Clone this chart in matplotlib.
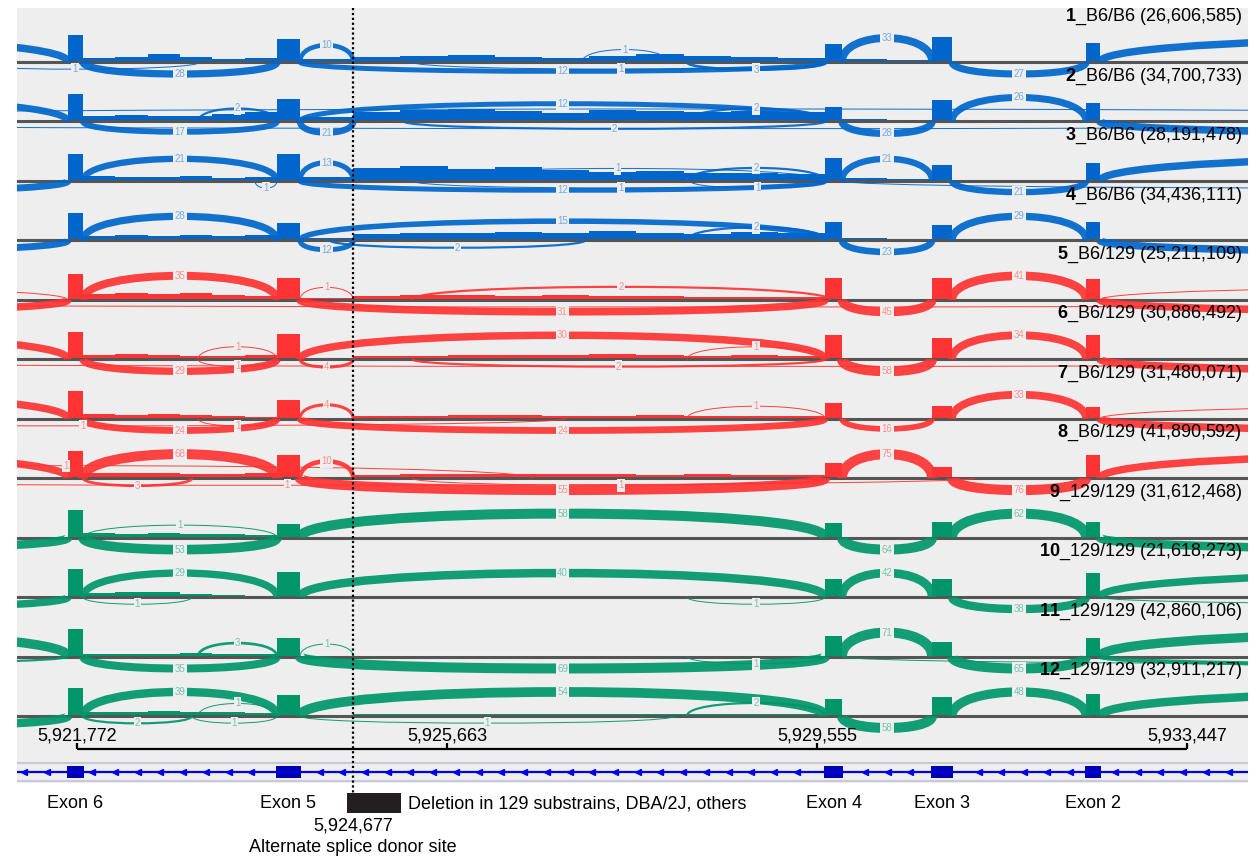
import matplotlib
matplotlib.use("Agg")
import matplotlib.pyplot as plt
import matplotlib.transforms as mtransforms
from matplotlib.path import Path
from matplotlib.patches import PathPatch, Rectangle
import numpy as np

plt.rcParams["font.family"] = ["Liberation Sans", "DejaVu Sans"]
plt.rcParams["mathtext.fontset"] = "custom"
plt.rcParams["mathtext.rm"] = "Liberation Sans"
plt.rcParams["mathtext.bf"] = "Liberation Sans:bold"

W, H = 1258, 859

# genomic window and features (bp)
VIEW = (5921141, 5934087)
L_OFF, R_OFF = 5915700, 5940950
E6S, E6E = 5921677, 5921835
E5S, E5E = 5923875, 5924117
ALT = 5924677
E4S, E4E = 5929639, 5929817
E3S, E3E = 5930764, 5930974
E2S, E2E = 5932384, 5932531

EXON_NAMES = ["Exon 6", "Exon 5", "Exon 4", "Exon 3", "Exon 2"]
EXON_SPANS = [(E6S, E6E), (E5S, E5E), (E4S, E4E), (E3S, E3E), (E2S, E2E)]
DELETION = (5924612, 5925180)
SCALE_TICKS = [5921772, 5925663, 5929555, 5933447]

GENOTYPES = ["B6/B6"] * 4 + ["B6/129"] * 4 + ["129/129"] * 4
READS = ["26,606,585", "34,700,733", "28,191,478", "34,436,111",
         "25,211,109", "30,886,492", "31,480,071", "41,890,592",
         "31,612,468", "21,618,273", "42,860,106", "32,911,217"]
COLORS = {"B6/B6": "#0066cc", "B6/129": "#ff3333", "129/129": "#00966a"}

# coverage heights: exons 6,5,4,3,2
EXON_COV = [
    [27, 23, 18, 25, 19],
    [27, 22, 14, 21, 18],
    [27, 27, 23, 16, 18],
    [27, 17, 18, 15, 18],
    [26, 22, 22, 22, 21],
    [27, 25, 24, 21, 24],
    [28, 19, 16, 13, 12],
    [27, 23, 15, 11, 23],
    [28, 14, 15, 16, 16],
    [28, 25, 18, 18, 24],
    [28, 19, 21, 15, 19],
    [28, 21, 17, 19, 22],
]
# intron 6-5 coverage, six bins
INTRON65_COV = [
    [4, 5, 8, 5, 3, 4], [5, 6, 5, 5, 7, 9], [5, 4, 4, 5, 3, 4],
    [4, 5, 4, 5, 4, 5], [6, 7, 6, 7, 5, 4], [4, 5, 4, 3, 3, 4],
    [5, 4, 5, 4, 3, 2], [5, 5, 5, 4, 4, 5], [5, 4, 5, 4, 4, 3],
    [4, 5, 5, 3, 2, 1], [3, 3, 3, 4, 3, 3], [4, 4, 5, 4, 4, 3],
]
DONOR_COV = [3, 4, 4, 2, 2, 1, 1, 1, 0, 0, 0, 1]
# intron 5-4 coverage (downstream of alternate donor), ten bins
INTRON54_COV = [
    [5, 6, 7, 5, 4, 6, 8, 6, 5, 4],
    [9, 11, 12, 10, 8, 11, 10, 9, 10, 9],
    [13, 15, 12, 14, 11, 9, 10, 8, 8, 7],
    [6, 7, 7, 8, 7, 9, 7, 6, 8, 7],
    [4, 5, 5, 4, 5, 4, 4, 3, 3, 3],
    [3, 3, 4, 4, 4, 5, 4, 3, 4, 3],
    [3, 3, 4, 4, 3, 3, 4, 3, 3, 3],
    [3, 4, 4, 4, 4, 4, 3, 4, 3, 3],
    [0, 0, 0, 0, 0, 0, 0, 0, 0, 0],
    [0, 0, 0, 0, 0, 0, 0, 0, 0, 0],
    [1, 1, 1, 1, 1, 1, 1, 1, 1, 1],
    [2, 2, 2, 2, 2, 2, 2, 2, 2, 2],
]
INTRON43_COV = [[3, 2], [2, 1], [3, 2], [2, 1], [0, 0], [0, 0],
                [0, 0], [0, 0], [0, 0], [0, 0], [0, 0], [0, 0]]

# junctions per sample: (start, end, reads, side)
JUNCTIONS = [
    [(L_OFF, E6S, 30, "up"), (5920436, 5923066, 1, "down"), (E6E, E5S, 28, "down"),
     (E5E, ALT, 10, "up"), (E5E, E4S, 12, "down"), (5927083, 5927987, 1, "up"),
     (5925295, 5929691, 1, "down"), (5928187, E4S, 3, "down"), (E4E, E3S, 33, "up"),
     (E3E, E2S, 27, "down"), (E2E, R_OFF, 30, "up")],
    [(L_OFF, E6S, 25, "up"), (L_OFF, R_OFF, 1, "up"), (L_OFF, R_OFF, 1, "down"),
     (E6E, E5S, 17, "down"), (5923045, E5S, 2, "up"), (E5E, ALT, 21, "down"),
     (E5E, E4S, 12, "up"), (5925211, E4S, 2, "down"), (5928187, E4S, 2, "up"),
     (E4E, E3S, 28, "down"), (E3E, E2S, 26, "up"), (E2E, R_OFF, 30, "down")],
    [(L_OFF, E6S, 25, "down"), (E6E, E5S, 21, "up"), (5923644, E5S, 1, "down"),
     (E5E, ALT, 13, "up"), (5925274, E4S, 1, "up"), (5928187, E4S, 2, "up"),
     (E5E, E4S, 12, "down"), (5925295, 5929691, 1, "down"), (5928219, E4S, 1, "down"),
     (E4E, E3S, 21, "up"), (E3E, E2S, 21, "down"), (E2E, R_OFF, 30, "up"),
     (E4E, R_OFF, 1, "down")],
    [(L_OFF, E6S, 25, "down"), (E6E, E5S, 28, "up"), (E5E, ALT, 12, "down"),
     (E5E, E4S, 15, "up"), (5928187, E4S, 2, "up"), (5924433, 5927115, 2, "down"),
     (E4E, E3S, 23, "down"), (E3E, E2S, 29, "up"), (E2E, R_OFF, 30, "down")],
    [(L_OFF, E6S, 30, "down"), (L_OFF, R_OFF, 1, "down"), (L_OFF, E6S, 1, "up"),
     (E6E, E5S, 35, "up"), (E5E, ALT, 1, "up"), (5925295, 5929691, 2, "up"),
     (E5E, E4S, 31, "down"), (E4E, E3S, 45, "down"), (E3E, E2S, 41, "up"),
     (E2E, R_OFF, 30, "down"), (E2E, R_OFF, 1, "up")],
    [(L_OFF, E6S, 30, "up"), (L_OFF, R_OFF, 1, "down"), (E6E, E5S, 29, "down"),
     (5923045, E5S, 1, "up"), (5923045, E5S, 1, "down"), (E5E, E4S, 30, "up"),
     (E5E, ALT, 4, "down"), (5928187, E4S, 1, "up"), (5925295, E4S, 2, "down"),
     (E4E, E3S, 58, "down"), (E3E, E2S, 34, "up"), (E2E, R_OFF, 30, "down")],
    [(L_OFF, E6S, 30, "up"), (5916755, 5926915, 1, "down"), (E6E, E5S, 24, "down"),
     (5923045, E5S, 1, "down"), (E5E, ALT, 4, "up"), (E5E, E4S, 24, "down"),
     (5928187, E4S, 1, "up"), (E4E, E3S, 16, "down"), (E3E, E2S, 33, "up"),
     (E2E, R_OFF, 30, "down"), (E2E, R_OFF, 1, "up")],
    [(L_OFF, E6S, 30, "up"), (5916755, 5926557, 1, "up"), (E6E, E5S, 68, "up"),
     (E6E, 5922981, 3, "down"), (E5E, ALT, 10, "up"), (E5E, E4S, 55, "down"),
     (5925295, 5929691, 1, "down"), (5916755, 5931216, 1, "down"),
     (E4E, E3S, 75, "up"), (E3E, E2S, 76, "down"), (E2E, R_OFF, 30, "up")],
    [(L_OFF, E6S, 40, "down"), (E6E, E5S, 1, "up"), (E6E, E5S, 53, "down"),
     (E5E, E4S, 58, "up"), (E4E, E3S, 64, "down"), (E3E, E2S, 62, "up"),
     (E2E, R_OFF, 40, "down")],
    [(L_OFF, E6S, 30, "down"), (E6E, E5S, 29, "up"), (E6E, 5922981, 1, "down"),
     (E5E, E4S, 40, "up"), (5928187, E4S, 1, "down"), (E4E, E3S, 42, "up"),
     (E3E, E2S, 38, "down"), (E2E, R_OFF, 30, "up"), (E2E, R_OFF, 1, "down")],
    [(L_OFF, E6S, 50, "up"), (L_OFF, E6S, 2, "down"), (E6E, E5S, 35, "down"),
     (5923045, E5S, 3, "up"), (E5E, ALT, 1, "up"), (E5E, E4S, 69, "down"),
     (5928187, E4S, 1, "down"), (E4E, R_OFF, 1, "down"), (E4E, E3S, 71, "up"),
     (E3E, E2S, 65, "down"), (E2E, R_OFF, 50, "up"), (E2E, R_OFF, 8, "down")],
    [(L_OFF, E6S, 40, "down"), (E6E, E5S, 39, "up"), (E6E, 5922981, 2, "down"),
     (5922981, E5S, 1, "down"), (5923045, E5S, 1, "up"), (E5E, E4S, 54, "up"),
     (5928187, E4S, 2, "up"), (E5E, 5928061, 1, "down"), (E4E, E3S, 58, "down"),
     (E3E, E2S, 48, "up"), (E2E, R_OFF, 40, "up")],
]


def tint(color, amount):
    rgb = np.array(matplotlib.colors.to_rgb(color))
    return tuple(rgb + (1 - rgb) * amount)


def px_axes(fig, x0, y0, x1, y1):
    return fig.add_axes([x0 / W, 1 - y1 / H, (x1 - x0) / W, (y1 - y0) / H])


def draw_junction(ax, start, end, count, side, color):
    sign = 1 if side == "up" else -1
    frac = min(1.0, count / 25)
    peak = (12 + 12 * frac) if sign > 0 else (7 + 5 * frac)
    ctrl = sign * peak / 0.75
    path = Path([(start, 0), (start, ctrl), (end, ctrl), (end, 0)],
                [Path.MOVETO, Path.CURVE4, Path.CURVE4, Path.CURVE4])
    lw_px = min(10, 1 + 1.2 * np.sqrt(count - 1))
    ax.add_patch(PathPatch(path, fill=False, edgecolor=color, lw=lw_px * 0.72,
                           alpha=0.92, capstyle="butt", zorder=3))
    # no label for junctions that leave the window on both sides
    if start < VIEW[0] and end > VIEW[1]:
        return
    mid = (start + end) / 2
    if not (VIEW[0] + 150 < mid < VIEW[1] - 150):
        return
    ax.text(mid, sign * peak, str(count), fontsize=7,
            color=tint(color, 0.45), ha="center", va="center", zorder=4,
            bbox=dict(boxstyle="square,pad=0.12", fc="#eeeeee", ec="none"))


fig = plt.figure(figsize=(W / 100, H / 100), dpi=100)

ax_bg = px_axes(fig, 17, 0, 1248, H)
ax_bg.set_xlim(VIEW)
ax_bg.set_ylim(H, 0)
ax_bg.axis("off")
ax_bg.add_patch(Rectangle((VIEW[0], 8), VIEW[1] - VIEW[0], 775,
                          fc="#eeeeee", ec="none"))

for i, genotype in enumerate(GENOTYPES):
    color = COLORS[genotype]
    base = 62 + 59.45 * i
    ax = px_axes(fig, 17, base - 50, 1248, base + 22)
    ax.set_xlim(VIEW)
    ax.set_ylim(-22, 50)
    ax.axis("off")

    e6, e5, e4, e3, e2 = EXON_COV[i]
    edges = np.concatenate([
        [E6S, E6E], np.linspace(E6E, E5S, 7)[1:-1],
        [E5S, E5E, ALT], np.linspace(ALT, E4S, 11)[1:-1],
        [E4S, E4E], np.linspace(E4E, E3S, 3)[1:-1],
        [E3S, E3E, E2S, E2E]])
    values = [e6] + INTRON65_COV[i] + [e5, DONOR_COV[i]] + INTRON54_COV[i] + \
             [e4] + INTRON43_COV[i] + [e3, 0, e2]
    ax.stairs(values, edges, fill=True, color=color, baseline=0, zorder=1)
    ax.axhline(0, color="#555555", lw=2.2, zorder=2)

    for start, end, count, side in JUNCTIONS[i]:
        draw_junction(ax, start, end, count, side, color)

    trans = mtransforms.blended_transform_factory(ax.transAxes, ax.transData)
    ax.text(0.995, 45, rf"$\mathbf{{{i + 1}}}$_{genotype} ({READS[i]})",
            transform=trans, ha="right", va="center", fontsize=13, zorder=5)

ax_top = px_axes(fig, 17, 0, 1248, H)
ax_top.set_xlim(VIEW)
ax_top.set_ylim(H, 0)
ax_top.axis("off")
ax_top.set_zorder(10)

# scale bar
ax_top.hlines(749, SCALE_TICKS[0], SCALE_TICKS[-1], color="black", lw=1.6)
for tick in SCALE_TICKS:
    ax_top.vlines(tick, 743, 749, color="black", lw=1.6)
    ax_top.text(tick, 736, f"{tick:,}", ha="center", va="center", fontsize=13)

# gene model
ax_top.hlines([763, 781], VIEW[0], VIEW[1], color="#c8c8d6", lw=1.5)
ax_top.hlines(772, VIEW[0], VIEW[1], color="#0000e6", lw=1.6)
arrows = np.arange(VIEW[0] + 75, VIEW[1], 239)
arrows = [a for a in arrows
          if not any(s - 80 < a < e + 80 for s, e in EXON_SPANS)]
ax_top.plot(arrows, [772] * len(arrows), ls="none", marker="<", ms=4.5,
            color="#0000e6")
for (s, e), name in zip(EXON_SPANS, EXON_NAMES):
    ax_top.add_patch(Rectangle((s - 10, 766), e - s + 20, 12, fc="#0000b0",
                               ec="none"))
    ax_top.text((s + e) / 2, 804, name, ha="center", va="center", fontsize=13)

# alternate donor and deletion
ax_top.vlines(ALT, 8, 794, color="black", lw=1.6, linestyles=(0, (1, 1.2)))
ax_top.add_patch(Rectangle((DELETION[0], 793), DELETION[1] - DELETION[0], 20,
                           fc="#231f20", ec="none"))
ax_top.text(DELETION[1] + 70, 804, "Deletion in 129 substrains, DBA/2J, others",
            ha="left", va="center", fontsize=13)
ax_top.text(ALT, 826, f"{ALT:,}", ha="center", va="center", fontsize=13)
ax_top.text(ALT, 848, "Alternate splice donor site", ha="center", va="center",
            fontsize=13)

fig.savefig("out.png", dpi=100)
